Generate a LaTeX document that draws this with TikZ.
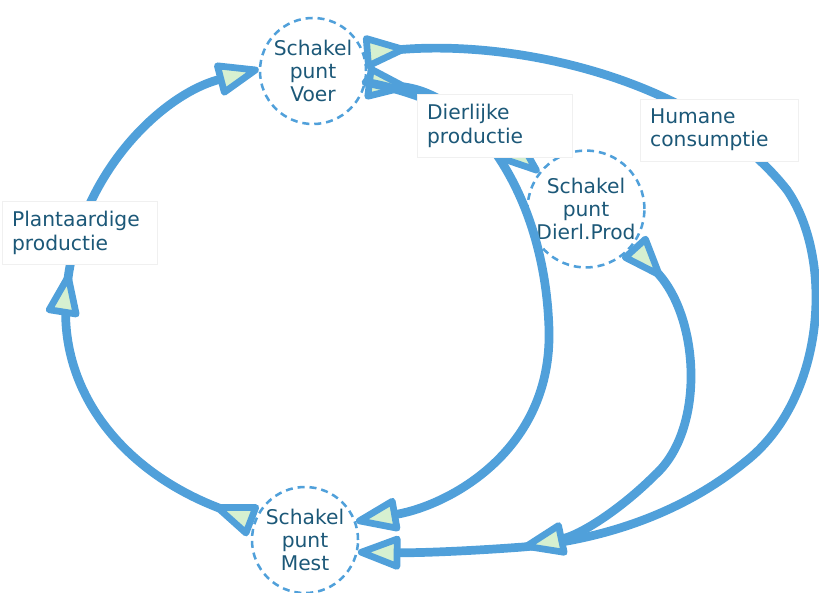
\documentclass[tikz,border=0pt]{standalone}
\usepackage{fontspec}
\setmainfont{DejaVu Sans}
\usetikzlibrary{arrows.meta,decorations.markings}
\definecolor{lijnblauw}{RGB}{80,160,218}
\definecolor{tekstblauw}{RGB}{28,88,120}
\definecolor{puntgroen}{RGB}{214,240,208}
\begin{document}
\begin{tikzpicture}[x=0.025cm,y=-0.025cm,
		font=\fontsize{14.4}{16.5}\selectfont,text=tekstblauw,
		>={Triangle[length=35pt,width=25pt,line width=4.8pt,fill=puntgroen,round]},
		schakel/.style={circle,draw=lijnblauw,dash pattern=on 5pt off 3.5pt,line width=1.8pt,minimum size=2.65cm,inner sep=0pt,align=center},
		stroom/.style={draw=lijnblauw,line width=6.2pt,line cap=round,line join=round},
		kader/.style={fill=white,draw=black!6,align=left,inner sep=7pt,anchor=west}]
		\useasboundingbox (0,0) rectangle (819,592);
		\node[schakel] (voer) at (313,71) {Schakel\\punt\\Voer};
		\node[schakel] (mest) at (305,540) {Schakel\\punt\\Mest};
		\node[schakel] (dierl) at (586,209) {Schakel\\punt\\Dierl.Prod};
		\coordinate (samen) at (523,547);
		% kringloop links
		\draw[stroom,>->,postaction={decorate},decoration={markings,mark=at position 0.535 with {\arrow{>}}}]
			(mest.160) .. controls (120,470) and (60,390) .. (66,300) .. controls (72,180) and (160,95) .. (voer.178);
		% humane consumptie
		\draw[stroom,>->] (voer.20) .. controls (520,40) and (700,80) .. (787,190)
			.. controls (835,260) and (825,400) .. (745,462) .. controls (680,515) and (600,540) .. (samen)
			.. controls (470,551) and (420,553) .. (mest.-13);
		% dierlijke productie
		\draw[stroom,>->] (voer.-12) .. controls (470,95) and (545,190) .. (549,330)
			.. controls (552,450) and (450,505) .. (mest.20);
		\draw[stroom,->] (voer.-12) .. controls (450,98) and (500,140) .. (dierl.142);
		\draw[stroom,>->] (dierl.-38) .. controls (700,320) and (705,430) .. (655,475)
			.. controls (620,510) and (580,535) .. (samen);
		\node[kader,text width=96pt] (plant) at (2,233) {Plantaardige\\productie};
		\node[kader,text width=96pt] (dierlijk) at (417,126) {Dierlijke\\productie};
		\node[kader,text width=98pt] (humaan) at (640,130) {Humane\\consumptie};
	\end{tikzpicture}
\end{document}
